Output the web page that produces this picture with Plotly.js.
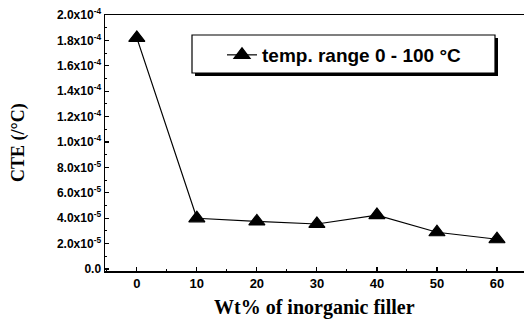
<!DOCTYPE html>
<html>
<head>
<meta charset="utf-8">
<script src="https://cdn.plot.ly/plotly-3.0.1.min.js"></script>
<style>html,body{margin:0;padding:0;background:#fff;}#chart{width:524px;height:320px;}</style>
</head>
<body>
<div id="chart"></div>
<script>
// Data
const fillerWt = [0, 10, 20, 30, 40, 50, 60];
const cteValues = [1.82e-4, 4.0e-5, 3.75e-5, 3.55e-5, 4.25e-5, 2.9e-5, 2.35e-5];
const seriesName = 'temp. range 0 - 100 °C';
const xTickVals = [0, 10, 20, 30, 40, 50, 60];
const yTickVals = [0, 2e-5, 4e-5, 6e-5, 8e-5, 1.0e-4, 1.2e-4, 1.4e-4, 1.6e-4, 1.8e-4, 2.0e-4];
const yTickText = ['0.0', '2.0x10<sup>-5</sup>', '4.0x10<sup>-5</sup>', '6.0x10<sup>-5</sup>', '8.0x10<sup>-5</sup>',
  '1.0x10<sup>-4</sup>', '1.2x10<sup>-4</sup>', '1.4x10<sup>-4</sup>', '1.6x10<sup>-4</sup>', '1.8x10<sup>-4</sup>', '2.0x10<sup>-4</sup>'];

const L = 105, R = 524, T = 15, B = 271, W = 524, H = 320;
const px = v => (v - L) / (R - L);
const py = v => (B - v) / (B - T);

const trace = {
  x: fillerWt, y: cteValues, name: seriesName,
  type: 'scatter', mode: 'lines+markers',
  line: {color: '#000', width: 1.2},
  marker: {symbol: 'triangle-up', size: 14, color: '#000', line: {color: '#000', width: 1.2}}
};

const sans = 'Liberation Sans, Arial, sans-serif';
const serif = 'Liberation Serif, Times New Roman, serif';

const layout = {
  width: W, height: H,
  margin: {l: L, r: W - R, t: T, b: H - B, pad: 0},
  paper_bgcolor: '#fff', plot_bgcolor: '#fff',
  showlegend: true,
  legend: {
    x: px(222), y: py(55), xanchor: 'left', yanchor: 'middle',
    bgcolor: 'rgba(0,0,0,0)', borderwidth: 0,
    font: {family: sans, size: 19, color: '#000', weight: 'bold'}
  },
  xaxis: {
    range: [-5.3, 64.5], tickvals: xTickVals, ticks: 'inside', ticklen: 4, tickwidth: 1.2,
    tickcolor: '#000', showline: true, linecolor: '#000', linewidth: 1.5, mirror: true,
    showgrid: false, zeroline: false,
    minor: {dtick: 5, ticks: 'inside', ticklen: 2, tickcolor: '#000', tickwidth: 1},
    tickfont: {family: sans, size: 13, color: '#000', weight: 'bold'}
  },
  yaxis: {
    range: [-1.5e-6, 2.0e-4], tickvals: yTickVals, ticktext: yTickText,
    ticks: 'inside', ticklen: 4, tickwidth: 1.2, tickcolor: '#000',
    showline: true, linecolor: '#000', linewidth: 1.5, mirror: false,
    showgrid: false, zeroline: false,
    minor: {dtick: 1e-5, ticks: 'inside', ticklen: 2, tickcolor: '#000', tickwidth: 1},
    tickfont: {family: sans, size: 12, color: '#000', weight: 'bold'}
  },
  shapes: [
    {type: 'rect', xref: 'paper', yref: 'paper', x0: px(195), x1: px(498), y0: py(76), y1: py(38),
     fillcolor: '#000', line: {width: 0}, layer: 'above'},
    {type: 'rect', xref: 'paper', yref: 'paper', x0: px(192), x1: px(495), y0: py(73), y1: py(35),
     fillcolor: '#fff', line: {color: '#000', width: 1.2}, layer: 'above'}
  ],
  annotations: [
    {text: 'Wt% of inorganic filler', xref: 'paper', yref: 'paper', x: 0.5, y: 0,
     xanchor: 'center', yanchor: 'middle', yshift: -(307 - B), showarrow: false,
     font: {family: serif, size: 20, color: '#000', weight: 'bold'}},
    {text: 'CTE (/°C)', xref: 'paper', yref: 'paper', x: 0, y: 0.5, textangle: -90,
     xanchor: 'center', yanchor: 'middle', xshift: 18 - L, showarrow: false,
     font: {family: serif, size: 18, color: '#000', weight: 'bold'}}
  ]
};

Plotly.newPlot('chart', [trace], layout, {displayModeBar: false, staticPlot: true});
</script>
</body>
</html>
